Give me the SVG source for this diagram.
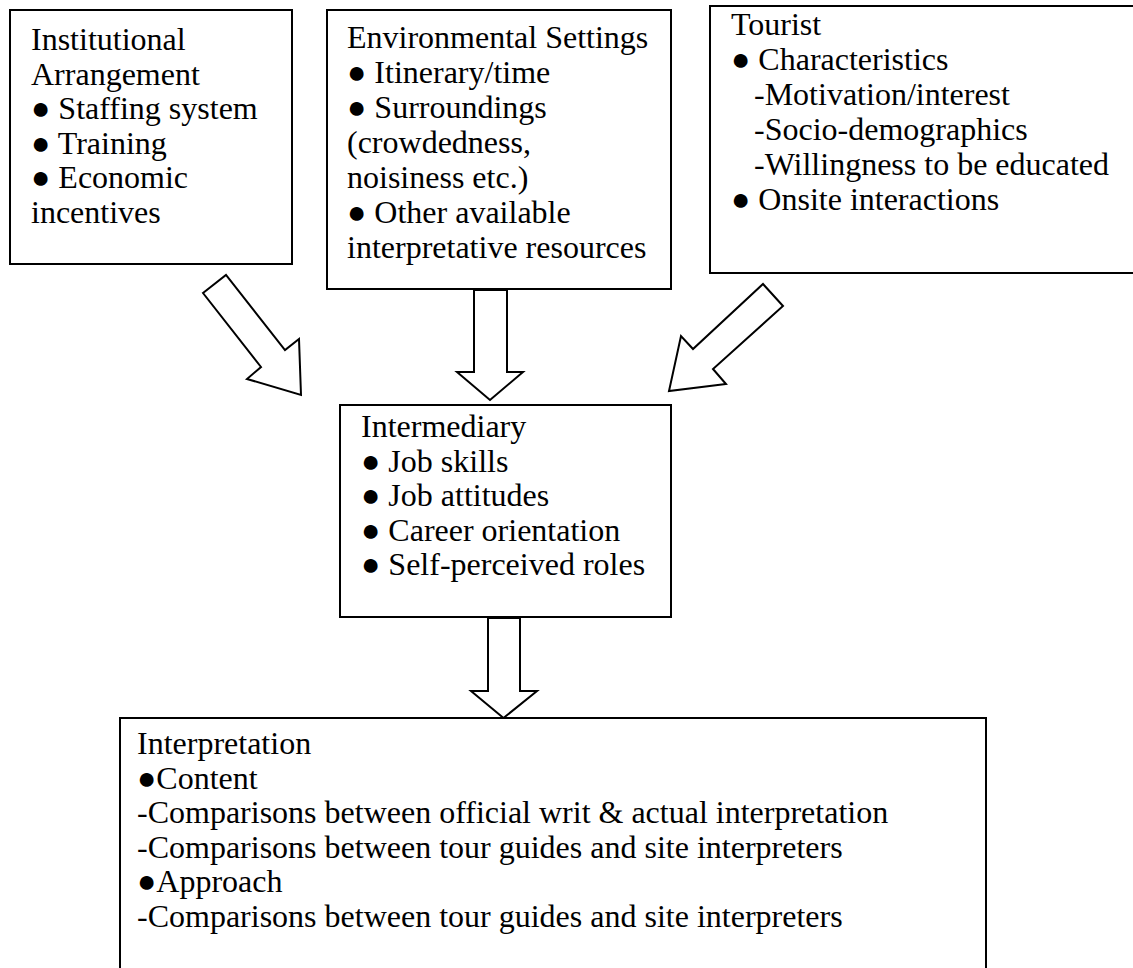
<svg xmlns="http://www.w3.org/2000/svg" width="1133" height="968" viewBox="0 0 1133 968">
  <style>
    .box { fill: #ffffff; stroke: #000000; stroke-width: 2; }
    .arrow { fill: #ffffff; stroke: #000000; stroke-width: 2; stroke-linejoin: miter; }
    text { font-family: "Liberation Serif", "Times New Roman", serif; font-size: 32px; fill: #000000; }
  </style>
  <rect x="0" y="0" width="1133" height="968" fill="#ffffff"/>

  <!-- block arrows between the boxes -->
  <g id="connectors">
    <polygon class="arrow" points="203,293 226,275 285,350 299,339 301,395 247,379 261,367"/>
    <polygon class="arrow" points="474,290 507,290 507,372 523,372 490,400 457,372 474,372"/>
    <polygon class="arrow" points="763,284 783,306 713,369 726,384 669,391 681,336 693,349"/>
    <polygon class="arrow" points="488,618 520,618 520,691 537,691 503.5,718 471,691 488,691"/>
  </g>

  <g id="institutional">
    <rect class="box" x="10" y="10" width="282" height="254"/>
    <text x="31" y="50">Institutional</text>
    <text x="31" y="84.5">Arrangement</text>
    <text x="31" y="119">● Staffing system</text>
    <text x="31" y="153.5">● Training</text>
    <text x="31" y="188">● Economic</text>
    <text x="31" y="222.5">incentives</text>
  </g>

  <g id="environmental">
    <rect class="box" x="327" y="10" width="344" height="279"/>
    <text x="347" y="48">Environmental Settings</text>
    <text x="347" y="83">● Itinerary/time</text>
    <text x="347" y="118">● Surroundings</text>
    <text x="347" y="153">(crowdedness,</text>
    <text x="347" y="188">noisiness etc.)</text>
    <text x="347" y="223">● Other available</text>
    <text x="347" y="258">interpretative resources</text>
  </g>

  <g id="tourist">
    <rect class="box" x="710" y="6" width="440" height="267"/>
    <text x="731" y="35">Tourist</text>
    <text x="731" y="70">● Characteristics</text>
    <text x="754" y="105">-Motivation/interest</text>
    <text x="754" y="140">-Socio-demographics</text>
    <text x="754" y="175">-Willingness to be educated</text>
    <text x="731" y="210">● Onsite interactions</text>
  </g>

  <g id="intermediary">
    <rect class="box" x="340" y="405" width="331" height="212"/>
    <text x="361" y="437">Intermediary</text>
    <text x="361" y="471.5">● Job skills</text>
    <text x="361" y="506">● Job attitudes</text>
    <text x="361" y="540.5">● Career orientation</text>
    <text x="361" y="575">● Self-perceived roles</text>
  </g>

  <g id="interpretation">
    <rect class="box" x="120" y="718" width="866" height="270"/>
    <text x="137" y="754">Interpretation</text>
    <text x="137" y="788.5">●Content</text>
    <text x="137" y="823">-Comparisons between official writ &amp; actual interpretation</text>
    <text x="137" y="857.5">-Comparisons between tour guides and site interpreters</text>
    <text x="137" y="892">●Approach</text>
    <text x="137" y="926.5">-Comparisons between tour guides and site interpreters</text>
  </g>
</svg>
